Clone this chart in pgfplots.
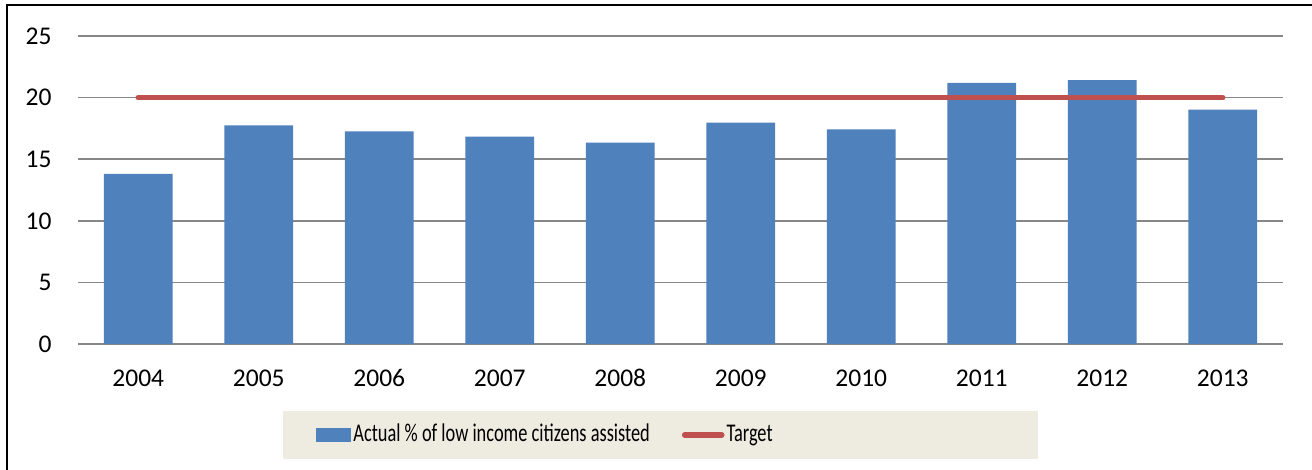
\documentclass[border=0pt]{standalone}
\usepackage{fontspec}
\setmainfont{Carlito}
\newfontfamily\legfont[FakeStretch=0.72]{Carlito}
\usepackage{pgfplots}
\pgfplotsset{compat=1.18}
\definecolor{barblue}{HTML}{4F81BD}
\definecolor{tgtred}{HTML}{C0504D}
\definecolor{gridgray}{HTML}{878787}
\definecolor{legbg}{HTML}{EEECE1}
\begin{document}
\fontsize{12.8}{15}\selectfont
\begin{tikzpicture}
\useasboundingbox (0,0) rectangle (656bp,235bp);
\fill[white] (0,0) rectangle (656bp,235bp);
\draw[line width=1bp, black] (3.5bp,0) -- (3.5bp,232.5bp) -- (656bp,232.5bp);
\fill[legbg] (141.5bp,5.5bp) rectangle (519bp,29.5bp);
\begin{axis}[
  at={(39bp,63bp)}, anchor=south west,
  scale only axis, width=602.5bp, height=154bp,
  xmin=-0.5, xmax=9.5, ymin=0, ymax=25,
  xtick={0,...,9},
  xticklabels={2004,2005,2006,2007,2008,2009,2010,2011,2012,2013},
  ytick={0,5,10,15,20,25},
  major tick length=0pt,
  axis line style={draw=none},
  ymajorgrids,
  major grid style={gridgray, line width=0.8bp},
  /pgf/number format/assume math mode=true,
  ticklabel style={font=\fontsize{12.8}{15}\selectfont, inner sep=0pt, text height=8.2bp, text depth=0pt},
  yticklabel style={xshift=-13bp},
  xticklabel style={yshift=-13bp},
  clip=false,
  legend style={at={(0.1975,-0.2955)}, anchor=west, draw=none, fill=none,
    inner sep=0pt, font=\legfont\fontsize{12.8}{15}\selectfont,
    nodes={inner xsep=1bp, inner ysep=0pt},
    /tikz/every even column/.append style={column sep=15bp}},
  legend columns=2,
]
\addplot[ybar, bar width=0.57, fill=barblue, draw=none,
  legend image code/.code={\fill[barblue] (0bp,-3.5bp) rectangle (17.5bp,3.5bp);}]
  coordinates {(0,13.8) (1,17.75) (2,17.26) (3,16.83) (4,16.34) (5,17.97) (6,17.43) (7,21.2) (8,21.42) (9,19.03)};
\addlegendentry{Actual \% of low income citizens assisted}
\addplot[tgtred, line width=2.8bp, line cap=round,
  legend image code/.code={\draw[tgtred, line width=2.8bp, line cap=round] (0bp,0bp) -- (18.5bp,0bp);}]
  coordinates {(0,20) (9,20)};
\addlegendentry{Target}
\end{axis}
\end{tikzpicture}
\end{document}
